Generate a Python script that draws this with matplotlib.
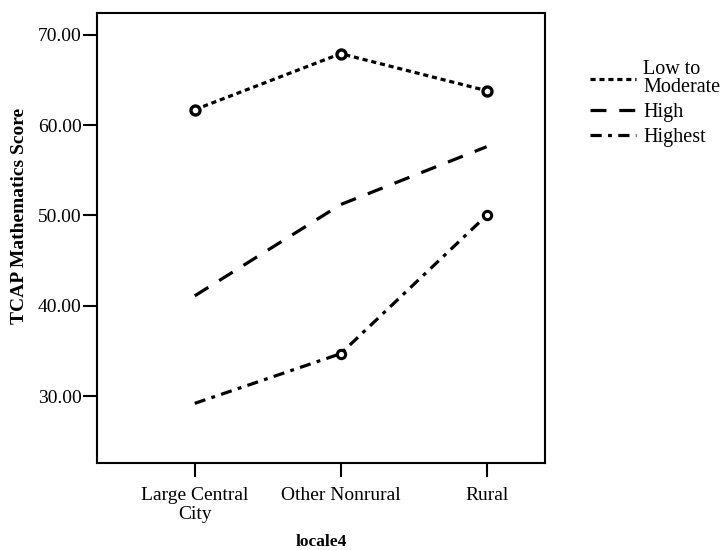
import numpy as np
import matplotlib
matplotlib.use('Agg')
import matplotlib.pyplot as plt

plt.rcParams['font.family'] = ['Liberation Serif', 'DejaVu Serif']

# data
locales = ["Large Central\nCity", "Other Nonrural", "Rural"]
low_mod = [61.7, 67.9, 63.8]
high = [41.1, 51.2, 57.6]
highest = [29.2, 34.7, 50.0]

x = np.arange(len(locales))

fig = plt.figure(figsize=(7.26, 5.5), dpi=100)
ax = fig.add_axes([0.1336, 0.1582, 0.6171, 0.8182])

ax.plot(x, low_mod, color='black', lw=2.3, linestyle=(0, (1.6, 1.2)),
        marker='o', ms=6.5, mfc='white', mec='black', mew=2.4, label='Low to\nModerate')
ax.plot(x, high, color='black', lw=2.3, linestyle=(0, (5, 4)), label='High')
ax.plot(x, highest, color='black', lw=2.3, linestyle=(0, (3.5, 2, 1.2, 2)),
        label='Highest')
ax.plot(x[1:], highest[1:], linestyle='none', marker='o', ms=6, mfc='white',
        mec='black', mew=2.2)

ax.set_xlim(-0.67, 2.40)
ax.set_ylim(22.6, 72.4)
ax.set_yticks([30, 40, 50, 60, 70])
ax.set_yticklabels([f"{v:.2f}" for v in [30, 40, 50, 60, 70]])
ax.set_xticks(x)
ax.set_xticklabels(locales, linespacing=1.15)
ax.tick_params(axis='both', direction='out', length=10, width=1.5, labelsize=14, pad=1)
ax.tick_params(axis='x', pad=7)
for s in ax.spines.values():
    s.set_linewidth(1.5)

ax.set_ylabel('TCAP Mathematics Score', fontsize=14, fontweight='bold')
ax.yaxis.set_label_coords(-0.154, 0.549)
ax.set_xlabel('locale4', fontsize=12.5, fontweight='bold')
ax.xaxis.set_label_coords(0.5, -0.158)

h, l = ax.get_legend_handles_labels()
leg = fig.legend(h[:3], l[:3], loc='upper left', bbox_to_anchor=(0.801, 0.905),
                 frameon=False, fontsize=14.5, handlelength=2.3, handletextpad=0.35,
                 labelspacing=0.3, borderaxespad=0)
for t in leg.get_texts():
    t.set_linespacing(0.9)
for lh in leg.get_lines():
    lh.set_marker('')

fig.savefig('out.png', dpi=100)
